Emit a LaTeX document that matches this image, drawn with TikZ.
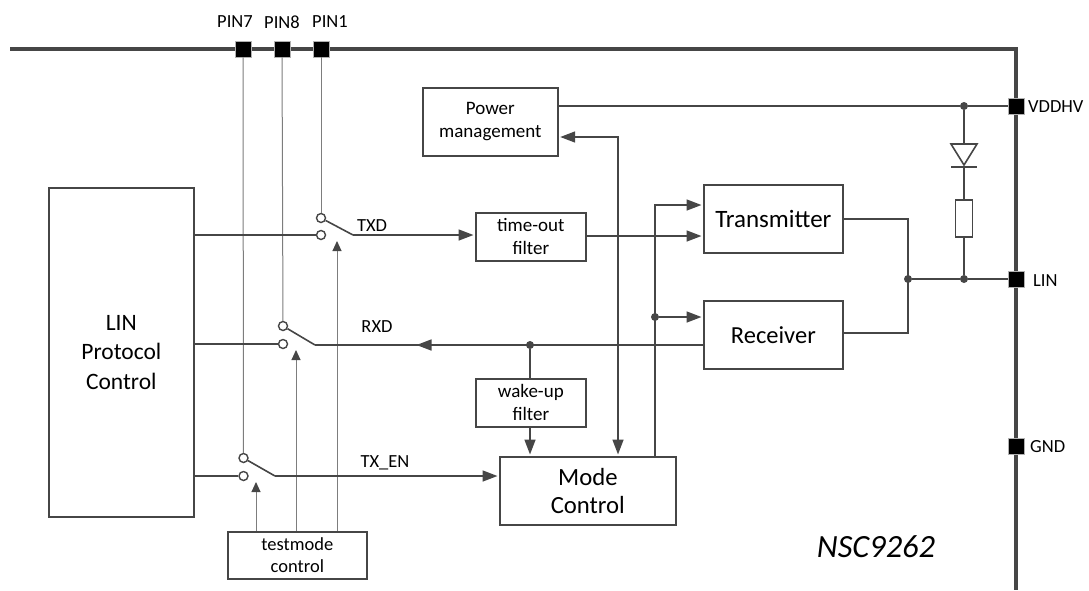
\documentclass[tikz,border=0pt]{standalone}
\usepackage{fontspec}
\setmainfont{Carlito}
\usetikzlibrary{arrows.meta,calc}
\definecolor{ln}{RGB}{70,70,70}
\definecolor{gl}{RGB}{125,125,125}
\tikzset{
  x=1pt,y=-1pt,
  blockbox/.style={draw=ln,line width=1.7pt,fill=white,align=center,inner sep=0pt,anchor=north west,font=\fontsize{#1}{1.2\dimexpr#1pt\relax}\selectfont},
  pinsq/.style={draw=gl!60,line width=.5pt,fill=black,minimum size=16pt,inner sep=0pt},
  contact/.style={circle,draw=ln,line width=1.4pt,fill=white,minimum size=9pt,inner sep=0pt},
  dotj/.style={circle,fill=ln,draw=none,minimum size=8pt,inner sep=0pt},
  wire/.style={draw=ln,line width=1.6pt},
  ctrl/.style={draw=gl,line width=1pt},
  tip/.style={-{Triangle[length=15pt,width=11pt]},shorten >=1.5pt},
  tiptwo/.style={{Triangle[length=15pt,width=11pt]}-{Triangle[length=15pt,width=11pt]},shorten >=1.5pt,shorten <=1.5pt},
  ctip/.style={-{Triangle[length=10pt,width=9pt,color=ln]}},
  lab/.style={font=\fontsize{18.5}{21}\selectfont,inner sep=0pt}
}
\begin{document}
\begin{tikzpicture}
\useasboundingbox (0,0) rectangle (1089,590);
% chip border
\coordinate (bl) at (10,49);
\coordinate (bc) at (1016,49);
\coordinate (bb) at (1016,590);
\draw[draw=ln,line width=4.5pt,line join=miter] (bl) -- (bc) -- (bb);
% pins
\node[pinsq] (p7) at (243,49) {};
\node[pinsq] (p8) at (282,49) {};
\node[pinsq] (p1) at (321,49) {};
\node[pinsq] (vdd) at (1016,106) {};
\node[pinsq] (lin) at (1016,279) {};
\node[pinsq] (gnd) at (1016,446) {};
\node[lab] at (235,22) {PIN7};
\node[lab] at (282,22) {PIN8};
\node[lab] at (330,22) {PIN1};
\node[lab,anchor=west] at (1028,107) {VDDHV};
\node[lab,anchor=west] at (1033,281) {LIN};
\node[lab,anchor=west] at (1030,447) {GND};
% blocks
\node[blockbox=23.5,minimum width=145pt,minimum height=329pt] (proto) at (48,187) {LIN\\[1.5pt]Protocol\\[1.5pt]Control};
\node[blockbox=18.5,minimum width=139pt,minimum height=47pt] (test) at (227,531) {testmode\\control};
\node[blockbox=19,minimum width=110pt,minimum height=48pt] (tof) at (475,212) {time-out\\filter};
\node[blockbox=19,minimum width=135pt,minimum height=68pt] (pwr) at (422,87) {Power\\management};
\node[blockbox=25,minimum width=139pt,minimum height=68pt] (tx) at (703,184) {Transmitter};
\node[blockbox=24.5,minimum width=139pt,minimum height=68pt] (rx) at (703,300) {Receiver};
\node[blockbox=19,minimum width=110pt,minimum height=48pt] (wake) at (475,378) {wake-up\\filter};
\node[blockbox=24.7,minimum width=176pt,minimum height=68pt] (mode) at (499,456) {Mode\\[-1.5pt]Control};
% switches
\node[contact] (s1a) at (321,218) {};
\node[contact] (s1b) at (321,235) {};
\node[contact] (s2a) at (283,326) {};
\node[contact] (s2b) at (283,344) {};
\node[contact] (s3a) at (243.5,458) {};
\node[contact] (s3b) at (243.5,476) {};
\coordinate (s1o) at (353,235);
\coordinate (s2o) at (315,345);
\coordinate (s3o) at (275,476);
% pin lines
\path[ctrl] (p7) -- (s3a);
\path[ctrl] (p8) -- (s2a);
\path[ctrl] (p1) -- (s1a);
% protocol to switches
\path[wire] (proto.east |- s1b) -- (s1b);
\path[wire] (proto.east |- s2b) -- (s2b);
\path[wire] (proto.east |- s3b) -- (s3b);
% switch arms
\path[wire] (s1a) -- (s1o);
\path[wire] (s2a) -- (s2o);
\path[wire] (s3a) -- (s3o);
% control arrows
\path[ctrl,ctip] (test.north -| 256,0) -- (256,482);
\path[ctrl,ctip] (test.north -| 296,0) -- (296,350);
\path[ctrl,ctip] (test.north -| 337,0) -- (337,241);
% signals
\path[wire,tip] (s1o) -- (tof.west |- s1o);
\path[wire,tip] (tof.east |- 0,236) -- (tx.west |- 0,236);
\path[wire,tip] (rx.west |- 0,345) -- (415,345);
\draw[wire] (422,345) -- (s2o);
\path[wire,tip] (s3o) -- (mode.west |- s3o);
\node[dotj] (jw) at (530,345) {};
\path[wire] (jw) -- (wake.north -| jw);
\path[wire,tip] (wake.south -| jw) -- (mode.north -| jw);
\path[wire,tiptwo] (pwr.east |- 0,137) -- (618,137) -- (mode.north -| 618,0);
\path[wire,tip] (mode.north -| 655,0) -- (655,205) -- (tx.west |- 0,205);
\node[dotj] (jm) at (655,317) {};
\path[wire,tip] (jm) -- (rx.west |- jm);
% outputs
\node[dotj] (jl) at (908,279) {};
\node[dotj] (jr) at (964,279) {};
\node[dotj] (jv) at (964,106) {};
\path[wire] (pwr.east |- vdd) -- (jv) -- (vdd);
\path[wire] (jl) -- (jr) -- (lin);
\path[wire] (tx.east |- 0,219) -- (908,219) -- (908,333) -- (rx.east |- 0,333);
% diode and resistor
\node[draw=ln,line width=1.6pt,fill=white,minimum width=17pt,minimum height=37pt,inner sep=0pt] (res) at (964,218.5) {};
\coordinate (dt) at (964,144);
\coordinate (dk) at (964,167);
\path[wire] (jv) -- (dt);
\path[wire] (dk) -- (res);
\path[wire] (res) -- (jr);
\draw[wire,fill=white,line join=miter] (951,144) -- (977,144) -- (964,165) -- cycle;
\draw[wire] (951,167) -- (977,167);
% labels
\node[lab] at (372,226) {TXD};
\node[lab] at (377,327) {RXD};
\node[lab] at (385,463) {TX\_EN};
\node[font=\fontsize{32.4}{36}\selectfont\itshape,inner sep=0pt] at (876,547) {NSC9262};
\end{tikzpicture}
\end{document}
